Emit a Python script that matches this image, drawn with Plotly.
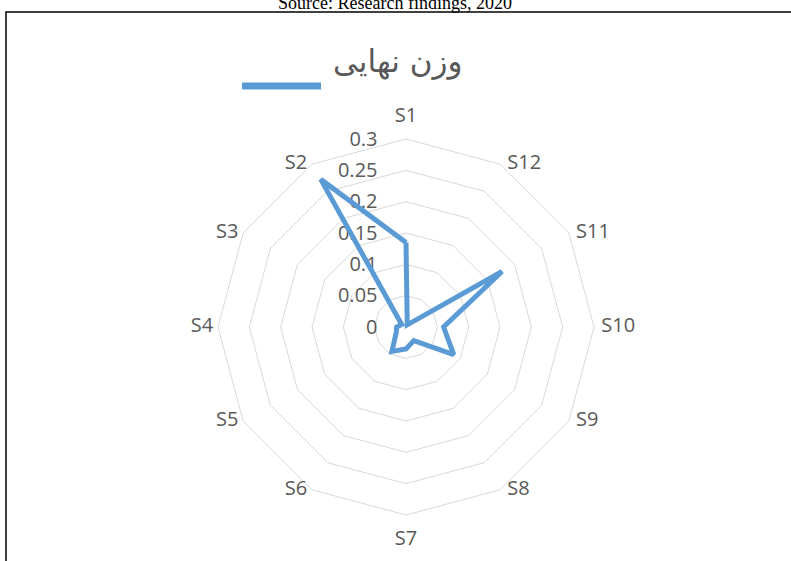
import plotly.graph_objects as go

categories = ["S1", "S2", "S3", "S4", "S5", "S6", "S7", "S8", "S9", "S10", "S11", "S12"]
weights = [0.135, 0.272, 0.008, 0.015, 0.018, 0.045, 0.035, 0.025, 0.088, 0.060, 0.177, 0.004]
series_name = "وزن نهایی"
source_text = "Source: Research findings, 2020"
radial_ticks = [0, 0.05, 0.1, 0.15, 0.2, 0.25, 0.3]

W, H = 791, 561
BLUE = "#5B9BD5"
GRAY = "#595959"
GRID = "#D9D9D9"

cx, cy, R = 406, 327, 188

n = len(categories)
half = n // 2
label_pos = []
label_pad = []
for i in range(n):
    if i == 0:
        label_pos.append("top center"); label_pad.append(18)
    elif i == half:
        label_pos.append("bottom center"); label_pad.append(22)
    elif i < half:
        label_pos.append("middle left"); label_pad.append(6)
    else:
        label_pos.append("middle right"); label_pad.append(10)

fig = go.Figure()
fig.add_trace(go.Scatterpolar(
    r=weights + weights[:1],
    theta=categories + categories[:1],
    mode="lines",
    line=dict(color=BLUE, width=5),
    name=series_name,
    showlegend=False,
))
# category labels placed at the outer ring, Excel-style
fig.add_trace(go.Scatterpolar(
    r=[radial_ticks[-1]] * n,
    theta=categories,
    mode="markers+text",
    text=categories,
    textposition=label_pos,
    marker=dict(size=label_pad, opacity=0, color="white"),
    textfont=dict(family="Open Sans", size=20, color=GRAY),
    cliponaxis=False,
    hoverinfo="skip",
    showlegend=False,
))

fig.update_layout(
    width=W, height=H,
    margin=dict(l=0, r=0, t=0, b=0),
    paper_bgcolor="white",
    plot_bgcolor="white",
    polar=dict(
        domain=dict(x=[(cx - R) / W, (cx + R) / W],
                    y=[(H - cy - R) / H, (H - cy + R) / H]),
        gridshape="linear",
        bgcolor="white",
        radialaxis=dict(
            range=[0, 0.3],
            tickvals=radial_ticks,
            angle=90,
            tickangle=90,
            side="counterclockwise",
            showline=False,
            showgrid=True,
            gridcolor=GRID,
            gridwidth=1,
            ticks="outside",
            ticklen=21,
            tickcolor="rgba(0,0,0,0)",
            tickfont=dict(family="Open Sans", size=20, color=GRAY),
            layer="below traces",
        ),
        angularaxis=dict(
            categoryarray=categories,
            direction="counterclockwise",
            rotation=90,
            showgrid=False,
            showline=True,
            linecolor=GRID,
            linewidth=1,
            ticks="",
            showticklabels=False,
            layer="below traces",
        ),
    ),
    shapes=[
        dict(type="rect", xref="paper", yref="paper",
             x0=6 / W, x1=1.05, y0=-0.05, y1=(H - 12) / H,
             line=dict(color="black", width=1.5), fillcolor="rgba(0,0,0,0)"),
        dict(type="line", xref="paper", yref="paper",
             x0=242 / W, x1=321 / W, y0=(H - 86) / H, y1=(H - 86) / H,
             line=dict(color=BLUE, width=7)),
    ],
    annotations=[
        dict(text=source_text, xref="paper", yref="paper", x=395 / W, y=(H - 3) / H,
             xanchor="center", yanchor="middle", showarrow=False,
             font=dict(family="Liberation Serif", size=18, color="black")),
        dict(text=series_name, xref="paper", yref="paper", x=398 / W, y=(H - 62) / H,
             xanchor="center", yanchor="middle", showarrow=False,
             font=dict(family="DejaVu Sans", size=31, color=GRAY)),
    ],
)

fig.write_html("out.html", config={"displayModeBar": False},
               post_script="document.body.style.margin='0px';")
